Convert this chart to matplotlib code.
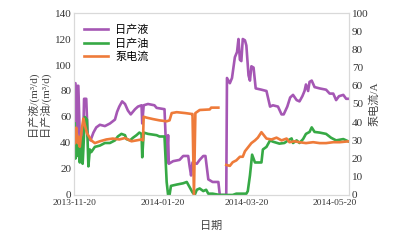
import numpy as np
import pandas as pd
import matplotlib
matplotlib.use('Agg')
import matplotlib.pyplot as plt
import matplotlib.dates as mdates

plt.rcParams['font.family'] = ['Liberation Serif', 'Noto Sans CJK SC']

start = pd.Timestamp('2013-11-20')

# 日产液 (m3/d), days counted from 2013-11-20
liq_day = [0, 0.5, 1, 1.5, 2, 2.5, 3.5, 4.5, 6, 6.5, 8, 9, 11, 13, 15, 17.5, 21, 24.5,
           28, 29.5, 31, 33, 35, 37, 39, 42, 44, 46.5, 47, 48, 51, 55.5, 57, 62.5, 64,
           65, 65.5, 68.5, 73, 75.5, 79, 80, 81, 82, 85, 87, 89.5, 91, 93, 96, 100,
           101, 105.5, 106, 108, 109.5, 111.5, 113, 114, 115, 116, 117, 118.5, 119.5,
           121, 122, 123, 124.5, 126, 130, 133.5, 136, 138, 141.5, 144, 145.5, 148,
           150, 152, 154.5, 156.5, 158.5, 160, 161, 162.5, 163.5, 165, 167, 170.5,
           175, 177.5, 180, 182, 184, 187, 189, 191]
liq_val = [86, 86, 40, 40, 84, 84, 45, 38, 50, 74, 74, 45, 42, 48, 52, 54, 53, 55,
           58, 64, 68, 72, 70, 65, 62, 66, 68, 69, 55, 69, 70, 69, 67, 66, 25,
           46, 24, 26, 27, 30, 30, 22, 15, 25, 24, 27, 30, 30, 12, 10, 10,
           0, 0, 90, 86, 90, 106, 110, 120, 104, 103, 120, 119, 115,
           92, 88, 99, 98, 82, 81, 80, 68, 69, 68, 62, 62, 68,
           75, 77, 73, 72, 76, 80, 85, 80, 87, 88, 83, 82,
           81, 78, 78, 73, 76, 77, 74, 74]

# 日产油 (m3/d)
oil_day = [0, 0.5, 1, 2, 3, 3.5, 4.5, 5.5, 6, 7, 8.5, 9.5, 10.5, 11.5, 14, 17.5, 21,
           24.5, 28, 30, 32.5, 35, 36, 38.5, 40.5, 43, 45, 46.5, 47, 48, 51, 57, 59,
           62.5, 64, 65, 66, 67, 71, 75.5, 78, 79, 81, 82, 83.5, 85, 87, 89.5, 91.5,
           93, 96, 101, 110, 112.5, 119.5, 120.5, 122, 123.5, 125.5, 130, 131, 133.5,
           136, 138, 142.5, 146, 148.5, 151, 152, 154.5, 156.5, 159, 161, 163.5, 165,
           167, 170.5, 175, 178.5, 182, 187, 189, 191]
oil_val = [55, 28, 45, 30, 40, 25, 45, 24, 35, 60, 58, 22, 35, 33, 37, 38, 40,
           40, 42, 45, 47, 46, 43, 42, 44, 46, 48, 47, 29, 48, 47, 46, 45,
           45, 10, 0, 0, 7, 8, 9, 10, 8, 4, 2, 0, 4, 5, 3, 4,
           1, 1, 0, 0, 1, 1, 3, 15, 31, 25, 25, 35, 37,
           42, 41, 39.5, 40, 42, 43.5, 40, 42, 40, 43, 47, 48.5, 52,
           48.5, 48, 47, 44, 42, 43, 42, 41]

# 泵电流 (A)
cur_day = [0, 0.5, 1, 2, 2.5, 3.5, 4.5, 6, 7, 8.5, 10, 11.5, 14, 17.5, 22, 26.5, 31,
           35, 37, 39.5, 43, 46.5, 47.5, 48, 50, 54.5, 59, 64, 66, 67.5, 71, 77, 81.5,
           82, 83, 84, 87, 94, 95, 100, 102,
           105.5, 108, 110, 112.5, 115, 117, 118.5, 120.5, 123, 125.5, 127.5, 130,
           131, 133.5, 137, 140.5, 144, 147.5, 149.5, 153, 156.5, 161, 166, 170.5,
           175, 180, 184.5, 191]
cur_val = [28.5, 34, 37, 28.5, 32, 26.5, 34, 42, 38.5, 34, 32, 30, 28.5, 29.5, 30.5, 31, 30.5,
           31.3, 30.5, 29.5, 30, 30.5, 30, 43, 42.5, 41.7, 41, 40.5, 41, 45, 45.5, 45, 44.5,
           44.5, 0, 45, 46.7, 47, 48, 48, np.nan,
           16.5, 16, 18, 19, 21, 21, 24, 26, 28.5, 30, 31.5, 34.5,
           33.5, 31, 30.5, 31.5, 30, 31, 29, 29.5, 29, 28.5, 29, 28.5,
           28.5, 29, 29, 29.5]

c_liq = '#a557b4'
c_oil = '#36a945'
c_cur = '#ee7b3a'

fig = plt.figure(figsize=(3.98, 2.41), dpi=100)
ax = fig.add_axes([0.186, 0.191, 0.691, 0.755])
ax2 = ax.twinx()

to_dates = lambda d: start + pd.to_timedelta(d, unit='D')
l1, = ax.plot(to_dates(liq_day), liq_val, color=c_liq, lw=1.9, label='日产液')
l2, = ax.plot(to_dates(oil_day), oil_val, color=c_oil, lw=1.9, label='日产油')
l3, = ax2.plot(to_dates(cur_day), cur_val, color=c_cur, lw=1.9, label='泵电流')

ax.set_ylim(0, 140)
ax.set_yticks(range(0, 141, 20))
ax2.set_ylim(0, 100)
ax2.set_yticks(range(0, 101, 10))
ax.set_xlim(start - pd.Timedelta(hours=12), start + pd.Timedelta(days=191))
ticks = pd.to_datetime(['2013-11-20', '2014-01-20', '2014-03-20', '2014-05-20'])
ax.set_xticks(ticks)
ax.xaxis.set_major_formatter(mdates.DateFormatter('%Y-%m-%d'))

for a in (ax, ax2):
    for s in a.spines.values():
        s.set_color('#d9d9d9')
        s.set_linewidth(0.8)
    a.tick_params(length=0, colors='#333333', labelsize=8, pad=2)
ax.tick_params(axis='x', labelsize=6.8, pad=3)

ax.set_ylabel('日产液/(m³/d)\n日产油/(m³/d)', fontsize=8, color='#444444',
              linespacing=1.05, labelpad=3)
ax2.set_ylabel('泵电流/A', fontsize=8, color='#444444', labelpad=0)
ax.set_xlabel('日期', fontsize=8, color='#444444', labelpad=10)

ax.legend(handles=[l1, l2, l3], loc='upper left', frameon=False, fontsize=8,
          handlelength=2.2, handletextpad=0.6, labelspacing=0.25,
          bbox_to_anchor=(0.0, 0.99))

fig.savefig('out.png', dpi=100)
